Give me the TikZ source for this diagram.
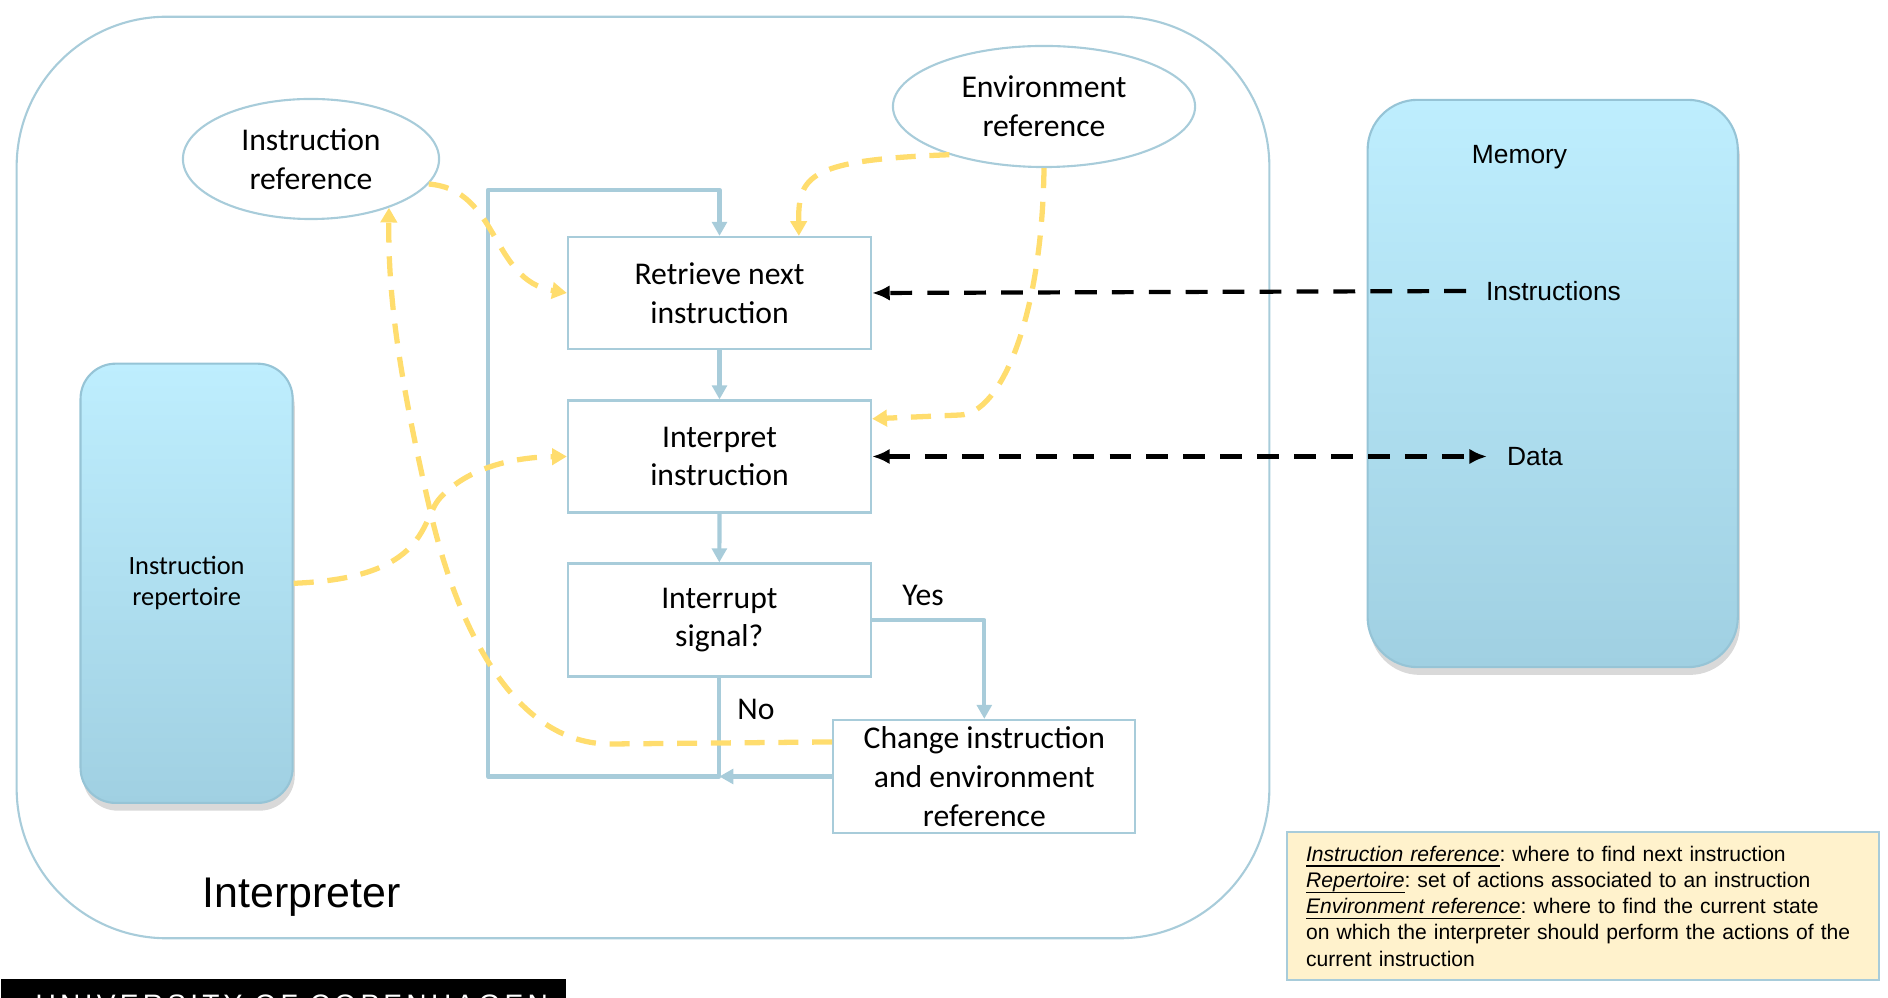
\documentclass[tikz,border=0pt]{standalone}
\usepackage{fontspec}
\setmainfont{Carlito}
\newfontfamily\arialfont{Liberation Sans}
\newfontfamily\footfont[LetterSpace=15]{Liberation Sans}
\usetikzlibrary{arrows.meta,shapes.geometric,shadows,calc}
\frenchspacing

\definecolor{kublue}{RGB}{168,204,218}
\definecolor{refyellow}{RGB}{255,221,110}
\definecolor{memtop}{RGB}{190,238,254}
\definecolor{membot}{RGB}{160,208,226}
\definecolor{memedge}{RGB}{150,196,214}
\definecolor{noteyellow}{RGB}{255,242,204}

\newcommand{\noteterm}[1]{\underline{\smash{\textit{#1}}}}

\begin{document}
\begin{tikzpicture}[x=0.01cm, y=-0.01cm,
	flowbox/.style={draw=kublue, line width=0.6pt, rectangle, minimum width=3.03cm, minimum height=1.12cm, inner sep=0pt, align=center, font=\fontsize{9}{11}\selectfont},
	refell/.style={draw=kublue, line width=0.6pt, ellipse, inner sep=0pt, align=center, font=\fontsize{9}{11}\selectfont},
	store/.style={draw=memedge, line width=0.6pt, top color=memtop, bottom color=membot, drop shadow={shadow xshift=0.6pt, shadow yshift=-2.2pt, opacity=0.3}},
	memtext/.style={anchor=west, inner xsep=5.5pt, inner ysep=0pt, font=\arialfont\fontsize{7.5}{9}\selectfont},
	flow/.style={draw=kublue, line width=1.2pt, line join=round, -{Triangle[length=4pt,width=4.2pt]}},
	reflink/.style={draw=refyellow, line width=1.5pt, dash pattern=on 5.7pt off 3.9pt, -{Triangle[length=4.2pt,width=4.6pt]}},
	datalink/.style={draw=black, line width=1.2pt, dash pattern=on 6.2pt off 4.3pt}]

	\useasboundingbox (0,0) rectangle (1888,998);

	%interpreter frame
	\node[draw=kublue, line width=0.6pt, rounded corners=1.5cm, minimum width=12.52cm, minimum height=9.21cm] (interp) at (643,477.5) {};
	\node[anchor=west, inner sep=0pt, font=\arialfont\fontsize{12.2}{15}\selectfont] (interplabel) at (202,897) {Interpreter};

	%stores
	\node[store, rounded corners=0.35cm, minimum width=2.12cm, minimum height=4.39cm, align=center, font=\fontsize{7.5}{8.9}\selectfont] (rep) at (186.6,583.3) {Instruction\\repertoire};
	\node[store, rounded corners=0.5cm, minimum width=3.7cm, minimum height=5.67cm] (memory) at (1552.7,383.5) {};
	\node[inner sep=0pt, font=\arialfont\fontsize{7.5}{9}\selectfont] (memlabel) at (1519.5,157) {Memory};
	\node[memtext] (meminstr) at (1466,291) {Instructions};
	\node[memtext] (memdata) at (1487,456.5) {Data};

	%references
	\node[refell, minimum width=2.56cm, minimum height=1.2cm] (insref) at (311,159) {Instruction\\reference};
	\node[refell, minimum width=3.02cm, minimum height=1.21cm] (envref) at (1044,106.5) {Environment\\reference};

	%flow boxes
	\node[flowbox] (retrieve) at (719.5,293) {Retrieve next\\instruction};
	\node[flowbox] (interpret) at (719.5,456.5) {Interpret\\instruction};
	\node[flowbox, minimum height=1.13cm] (interrupt) at (719.3,620) {Interrupt\\signal?};
	\node[flowbox, minimum width=3.02cm, minimum height=1.13cm] (change) at (984.3,776.5) {Change instruction\\and environment\\reference};

	\node[font=\fontsize{9}{11}\selectfont] (yes) at (923,595) {Yes};
	\node[font=\fontsize{9}{11}\selectfont] (no) at (756,709) {No};

	%loop
	\coordinate (join) at (interrupt |- change.west);
	\coordinate (loopbl) at (488,776.5);
	\coordinate (looptl) at (488,190);

	\draw[flow] (retrieve.south) -- (interpret.north);
	\draw[flow] (interpret.south) -- (interrupt.north);
	\draw[flow] (interrupt.east) -- (change.north |- interrupt.east) -- (change.north);
	\draw[flow] (change.west) -- (join);
	\draw[flow] (interrupt.south) -- (join) -- (loopbl) -- (looptl) -- (retrieve.north |- looptl) -- (retrieve.north);

	%reference links
	\draw[reflink] (insref.-12) .. controls (500,190) and (490,280) .. (retrieve.west);
	\draw[reflink] (envref.207) .. controls (810,160) and (798,175) .. ($(retrieve.north west)!0.76!(retrieve.north east)$);
	\draw[reflink] (envref.south) .. controls (1042,320) and (1000,414) .. (960,415) -- ($(interpret.north east)!0.17!(interpret.south east)$);
	\draw[reflink] (rep.east) .. controls (430,578) and (420,520) .. (440,498) .. controls (470,465) and (520,457) .. (interpret.west);
	\draw[reflink] ($(change.north west)!0.2!(change.south west)$) -- (610,744) .. controls (520,744) and (460,640) .. (430,510) .. controls (400,380) and (388,300) .. (insref.-32);

	%memory links
	\draw[datalink, -{Latex[length=5pt,width=4.4pt]}] (meminstr.west) -- (retrieve.east);
	\draw[datalink, {Latex[length=5pt,width=4.4pt]}-{Latex[length=5pt,width=4.4pt]}] (interpret.east) -- (memdata.west);

	%legend
	\node[draw=kublue, line width=0.6pt, fill=noteyellow, anchor=north west, text width=5.54cm, minimum height=1.48cm, inner xsep=0.19cm, inner ysep=0pt, align=left, font=\arialfont\fontsize{6}{7.45}\selectfont] (legend) at (1286,831) {\noteterm{Instruction reference}: where to find next instruction\\
	\noteterm{Repertoire}: set of actions associated to an instruction\\
	\noteterm{Environment reference}: where to find the current state\\
	on which the interpreter should perform the actions of the\\
	current instruction};

	%footer bar
	\node[fill=black, anchor=north west, inner sep=0pt, minimum width=5.65cm, minimum height=0.2cm] (footer) at (0,978) {};
	\begin{scope}
		\clip (footer.north west) rectangle (footer.south east);
		\node[anchor=base west, inner sep=0pt, text=white, font=\footfont\fontsize{8}{9}\selectfont] (kutext) at (35,1014) {UNIVERSITY OF COPENHAGEN};
	\end{scope}

\end{tikzpicture}
\end{document}
